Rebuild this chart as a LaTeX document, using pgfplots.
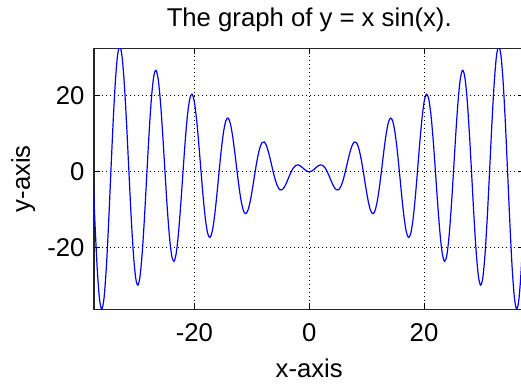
\documentclass[border=0pt]{standalone}
\usepackage{fontspec}
\setmainfont{Liberation Sans}
\usepackage{pgfplots}
\pgfplotsset{compat=1.18}
\newcommand{\ff}{\fontsize{12.85}{15}\selectfont}
\begin{document}
\begin{tikzpicture}
\useasboundingbox (-47pt,-37.35pt) rectangle (213.5pt,154.65pt);
\begin{axis}[
  at={(0,0)}, anchor=south west,
  scale only axis,
  width=215.25pt, height=130.5pt,
  xmin=-37.5, xmax=37.5,
  ymin=-36.2, ymax=32.5,
  xtick={-20,0,20}, ytick={-20,0,20},
  /pgf/number format/assume math mode=true,
  tick align=inside,
  major tick length=3pt,
  tick style={black, line width=0.5pt},
  axis line style={black!85, line width=0.6pt},
  grid=major,
  major grid style={black, line width=0.5pt, dash pattern=on 0.5pt off 1.5pt},
  tick label style={font=\ff},
  yticklabel style={xshift=-1.2pt},
  xticklabel style={yshift=-3.5pt},
  every axis title shift=0pt,
  title={The graph of y = x sin(x).},
  title style={font=\ff, at={(axis description cs:0.5,1.0828)}, anchor=base},
  xlabel={x-axis},
  xlabel style={font=\ff, at={(axis description cs:0.5,-0.2632)}, anchor=base},
  ylabel={y-axis},
  ylabel style={font=\ff, at={(axis description cs:-0.1487,0.5)}, anchor=base},
]
\addplot[blue, line width=0.6pt, smooth] coordinates {
(-37.6991,0) (-37.3064,-14.2765) (-36.9137,-26.1019) (-36.5210,-33.7410) (-36.1283,-36.1283) (-35.7356,-33.0154) (-35.3429,-24.9912) (-34.9502,-13.3749) (-34.5575,0) (-34.1648,13.0743) (-33.7721,23.8805) (-33.3794,30.8386) (-32.9867,32.9867) (-32.5940,30.1129) (-32.2013,22.7698) (-31.8086,12.1726) (-31.4159,0) (-31.0232,-11.8720) (-30.6305,-21.6590) (-30.2378,-27.9361) (-29.8451,-29.8451) (-29.4524,-27.2105) (-29.0597,-20.5483) (-28.6670,-10.9704) (-28.2743,0) (-27.8816,10.6698) (-27.4889,19.4376) (-27.0962,25.0336) (-26.7035,26.7035) (-26.3108,24.3080) (-25.9181,18.3269) (-25.5254,9.7681) (-25.1327,0) (-24.7400,-9.4676) (-24.3473,-17.2162) (-23.9546,-22.1312) (-23.5619,-23.5619) (-23.1692,-21.4056) (-22.7765,-16.1054) (-22.3838,-8.5659) (-21.9911,0) (-21.5985,8.2654) (-21.2058,14.9948) (-20.8131,19.2288) (-20.4204,20.4204) (-20.0277,18.5032) (-19.6350,13.8840) (-19.2423,7.3637) (-18.8496,0) (-18.4569,-7.0631) (-18.0642,-12.7733) (-17.6715,-16.3264) (-17.2788,-17.2788) (-16.8861,-15.6007) (-16.4934,-11.6626) (-16.1007,-6.1615) (-15.7080,0) (-15.3153,5.8609) (-14.9226,10.5519) (-14.5299,13.4239) (-14.1372,14.1372) (-13.7445,12.6983) (-13.3518,9.4412) (-12.9591,4.9592) (-12.5664,0) (-12.1737,-4.6587) (-11.7810,-8.3304) (-11.3883,-10.5214) (-10.9956,-10.9956) (-10.6029,-9.7958) (-10.2102,-7.2197) (-9.8175,-3.7570) (-9.4248,0) (-9.0321,3.4564) (-8.6394,6.1090) (-8.2467,7.6190) (-7.8540,7.8540) (-7.4613,6.8933) (-7.0686,4.9982) (-6.6759,2.5548) (-6.2832,0) (-5.8905,-2.2542) (-5.4978,-3.8875) (-5.1051,-4.7165) (-4.7124,-4.7124) (-4.3197,-3.9909) (-3.9270,-2.7768) (-3.5343,-1.3525) (-3.1416,0) (-2.7489,1.0520) (-2.3562,1.6661) (-1.9635,1.8140) (-1.5708,1.5708) (-1.1781,1.0884) (-0.7854,0.5554) (-0.3927,0.1503) (0,0)
(0.3927,0.1503) (0.7854,0.5554) (1.1781,1.0884) (1.5708,1.5708) (1.9635,1.8140) (2.3562,1.6661) (2.7489,1.0520) (3.1416,0) (3.5343,-1.3525) (3.9270,-2.7768) (4.3197,-3.9909) (4.7124,-4.7124) (5.1051,-4.7165) (5.4978,-3.8875) (5.8905,-2.2542) (6.2832,0) (6.6759,2.5548) (7.0686,4.9982) (7.4613,6.8933) (7.8540,7.8540) (8.2467,7.6190) (8.6394,6.1090) (9.0321,3.4564) (9.4248,0) (9.8175,-3.7570) (10.2102,-7.2197) (10.6029,-9.7958) (10.9956,-10.9956) (11.3883,-10.5214) (11.7810,-8.3304) (12.1737,-4.6587) (12.5664,0) (12.9591,4.9592) (13.3518,9.4412) (13.7445,12.6983) (14.1372,14.1372) (14.5299,13.4239) (14.9226,10.5519) (15.3153,5.8609) (15.7080,0) (16.1007,-6.1615) (16.4934,-11.6626) (16.8861,-15.6007) (17.2788,-17.2788) (17.6715,-16.3264) (18.0642,-12.7733) (18.4569,-7.0631) (18.8496,0) (19.2423,7.3637) (19.6350,13.8840) (20.0277,18.5032) (20.4204,20.4204) (20.8131,19.2288) (21.2058,14.9948) (21.5985,8.2654) (21.9911,0) (22.3838,-8.5659) (22.7765,-16.1054) (23.1692,-21.4056) (23.5619,-23.5619) (23.9546,-22.1312) (24.3473,-17.2162) (24.7400,-9.4676) (25.1327,0) (25.5254,9.7681) (25.9181,18.3269) (26.3108,24.3080) (26.7035,26.7035) (27.0962,25.0336) (27.4889,19.4376) (27.8816,10.6698) (28.2743,0) (28.6670,-10.9704) (29.0597,-20.5483) (29.4524,-27.2105) (29.8451,-29.8451) (30.2378,-27.9361) (30.6305,-21.6590) (31.0232,-11.8720) (31.4159,0) (31.8086,12.1726) (32.2013,22.7698) (32.5940,30.1129) (32.9867,32.9867) (33.3794,30.8386) (33.7721,23.8805) (34.1648,13.0743) (34.5575,0) (34.9502,-13.3749) (35.3429,-24.9912) (35.7356,-33.0154) (36.1283,-36.1283) (36.5210,-33.7410) (36.9137,-26.1019) (37.3064,-14.2765) (37.6991,0)
};
\end{axis}
\end{tikzpicture}
\end{document}
